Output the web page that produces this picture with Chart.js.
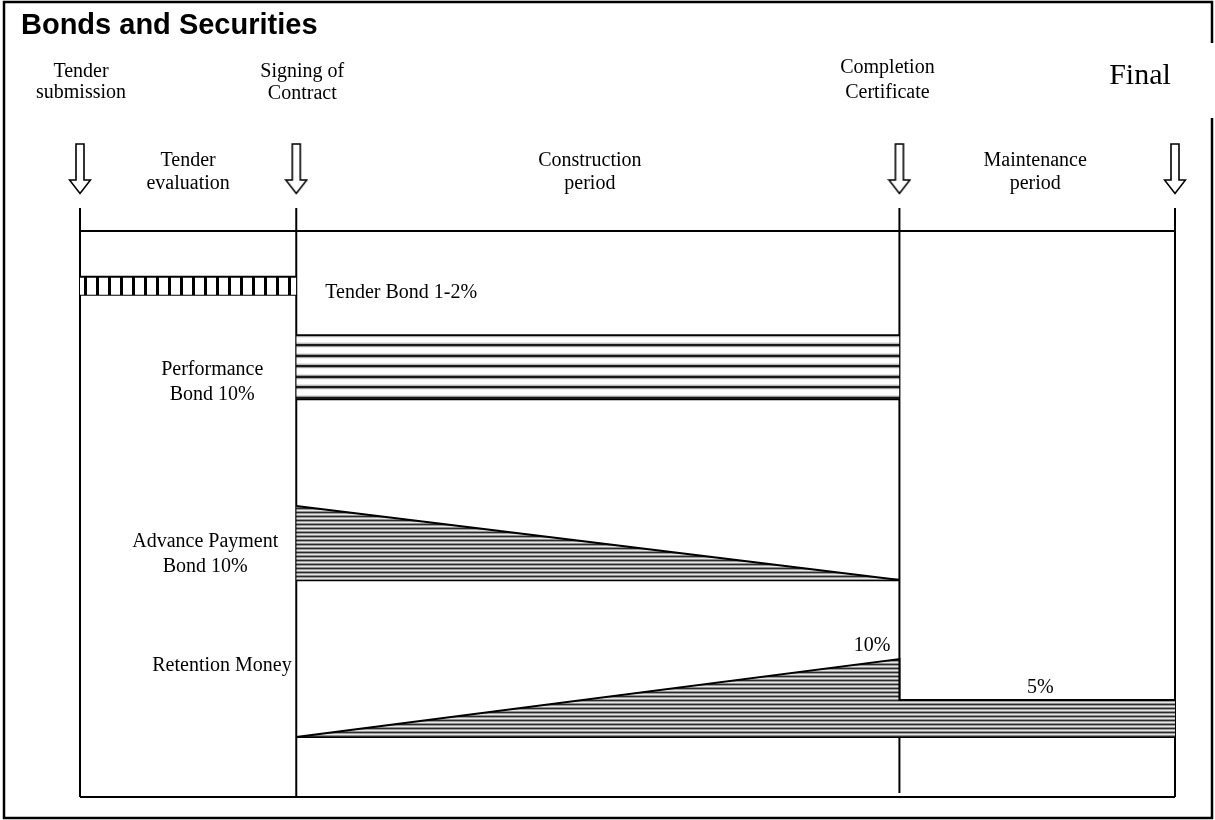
<!DOCTYPE html>
<html>
<head>
<meta charset="utf-8">
<script src="https://cdn.jsdelivr.net/npm/chart.js@4.4.1/dist/chart.umd.min.js"></script>
<style>
html,body{margin:0;padding:0;background:#fff;}
#wrap{position:relative;width:1215px;height:820px;}
</style>
</head>
<body>
<div id="wrap"><canvas id="c" width="1215" height="820"></canvas></div>
<script>
// ---------- data ----------
const chartTitle = 'Bonds and Securities';
const milestoneNames = ['Tender\nsubmission', 'Signing of\nContract', 'Completion\nCertificate', 'Final'];
const milestoneTimes = [0, 2.37, 8.98, 12];
const phaseNames = ['Tender\nevaluation', 'Construction\nperiod', 'Maintenance\nperiod'];
const bondLabels = ['Tender Bond 1-2%', 'Performance\nBond 10%', 'Advance Payment\nBond 10%', 'Retention Money'];
const laneBase = [71.0, 56.25, 30.67, 8.48];
const tenderBondTop = [73.55, 73.55];
const performanceBondTop = [65.3, 65.3];
const advancePaymentTop = [41.13, 30.67];
const retentionTop = [8.48, 19.5, 13.71, 13.71];
const retentionLabels = ['10%', '5%'];
const frameTop = 80, tickTop = 83.25, arrowLevel = 88.78;

// ---------- patterns ----------
function makePattern(w, h, draw, ty) {
  const c = document.createElement('canvas'); c.width = w; c.height = h;
  const g = c.getContext('2d'); draw(g);
  const p = document.createElement('canvas').getContext('2d').createPattern(c, 'repeat');
  if (ty) p.setTransform(new DOMMatrix().translate(0, ty));
  return p;
}
const vStripes = makePattern(12, 4, g => { g.fillStyle = '#fff'; g.fillRect(0,0,12,4); g.fillStyle = '#000'; g.fillRect(0,0,3,4); });
const hLines = makePattern(1, 21, g => {
  const rows = ['#999','#1a1a1a','#1a1a1a','#aaa','#eee','#fff','#fff','#fff','#fff','#e4e4e4','#bbb','#1a1a1a','#1a1a1a','#999','#eee','#fff','#fff','#fff','#fff','#fff','#e4e4e4'];
  rows.forEach((c,i)=>{ g.fillStyle=c; g.fillRect(0,i,1,1); });
}, 333);
const dense = makePattern(1, 4, g => {
  ['#2a2a2a','#9c9c9c','#e6e6e6','#909090'].forEach((c,i)=>{ g.fillStyle=c; g.fillRect(0,i,1,1); });
});

function arrowImage() {
  const c = document.createElement('canvas'); c.width = 24; c.height = 52;
  const g = c.getContext('2d');
  g.lineWidth = 1.6; g.strokeStyle = '#000'; g.fillStyle = '#fff';
  g.beginPath();
  g.moveTo(8,1); g.lineTo(16,1); g.lineTo(16,37); g.lineTo(22.5,37); g.lineTo(12,50.5); g.lineTo(1.5,37); g.lineTo(8,37); g.closePath();
  g.fill(); g.stroke();
  return c;
}

const T = milestoneTimes;
const pts = (xs, ys) => xs.map((x,i)=>({x, y: ys[i]}));
const base = {showLine:true, pointRadius:0, borderColor:'#000', borderWidth:2, clip:false, fill:false, tension:0};

const datasets = [];
// bonds
datasets.push({...base, data: pts([T[0],T[1]], tenderBondTop), fill:{value:laneBase[0]}, backgroundColor: vStripes});
datasets.push({...base, data: pts([T[0],T[1]], [laneBase[0],laneBase[0]])});
datasets.push({...base, data: pts([T[1],T[2]], performanceBondTop), fill:{value:laneBase[1]}, backgroundColor: hLines, borderWidth:1.5});
datasets.push({...base, data: pts([T[1],T[2]], [laneBase[1],laneBase[1]]), borderWidth:2.5});
datasets.push({...base, data: pts([T[1],T[2]], advancePaymentTop), fill:{value:laneBase[2]}, backgroundColor: dense});
datasets.push({...base, data: pts([T[1],T[2]], [laneBase[2],laneBase[2]]), borderWidth:2.5});
datasets.push({...base, data: pts([T[1],T[2],T[2],T[3]], retentionTop), fill:{value:laneBase[3]}, backgroundColor: dense});
datasets.push({...base, data: pts([T[1],T[3]], [laneBase[3],laneBase[3]])});
// frame
datasets.push({...base, data: pts([T[0],T[3]], [frameTop,frameTop])});
datasets.push({...base, data: pts([T[0],T[3]], [0,0])});
T.forEach((t,i)=>{
  datasets.push({...base, data: pts([t,t], [i===2?0.55:0, tickTop])});
});
// arrows
const arrow = arrowImage();
datasets.push({data: T.map(t=>({x:t, y:arrowLevel})), showLine:false, pointStyle: arrow, pointRadius: 12, clip:false, borderWidth:0});

// ---------- text plugin ----------
const textPlugin = {
  id: 'texts',
  beforeDraw(chart) {
    const ctx = chart.ctx; ctx.save(); ctx.fillStyle = '#fff'; ctx.fillRect(0,0,chart.width,chart.height); ctx.restore();
  },
  afterDraw(chart) {
    const ctx = chart.ctx, xs = chart.scales.x, ys = chart.scales.y;
    const X = v => xs.getPixelForValue(v), Y = v => ys.getPixelForValue(v);
    ctx.save();
    // outer border with gap on right
    ctx.strokeStyle = '#000'; ctx.lineWidth = 2.5;
    ctx.beginPath();
    ctx.moveTo(1212, 43); ctx.lineTo(1212, 2); ctx.lineTo(4, 2); ctx.lineTo(4, 818); ctx.lineTo(1212, 818); ctx.lineTo(1212, 118);
    ctx.stroke();
    // title
    ctx.fillStyle = '#000';
    ctx.font = 'bold 29px "Liberation Sans", Arial, sans-serif';
    ctx.textAlign = 'left'; ctx.textBaseline = 'alphabetic';
    ctx.fillText(chartTitle, 21, 34);
    const serif = s => s + 'px "Liberation Serif", "Times New Roman", serif';
    const lines = (txt, x, y0, lh, align) => {
      ctx.textAlign = align || 'center';
      txt.split('\n').forEach((l,i)=>ctx.fillText(l, x, y0 + i*lh));
    };
    ctx.font = serif(20);
    const mOff = [[1,77,21],[6,77,22],[-12,73,25]];
    mOff.forEach((o,i)=>lines(milestoneNames[i], X(T[i])+o[0], o[1], o[2]));
    ctx.font = serif(30);
    lines(milestoneNames[3], X(T[3])-35, 84, 30);
    ctx.font = serif(20);
    const pOff = [0,-8,-2];
    phaseNames.forEach((n,i)=>lines(n, (X(T[i])+X(T[i+1]))/2 + pOff[i], 166, 23));
    // bond labels
    lines(bondLabels[0], X(T[1])+29, Y(laneBase[0])+3, 22, 'left');
    lines(bondLabels[1], X(T[1])-84, 375, 25);
    lines(bondLabels[2], X(T[1])-91, 547, 25);
    lines(bondLabels[3], X(T[1])-144, 671, 22, 'left');
    lines(retentionLabels[0], X(T[2])-9, Y(retentionTop[1])-8, 22, 'right');
    lines(retentionLabels[1], (X(T[2])+X(T[3]))/2 + 3, Y(retentionTop[2])-7, 22);
    ctx.restore();
  }
};

new Chart(document.getElementById('c'), {
  type: 'scatter',
  data: { datasets },
  options: {
    responsive: false, animation: false, devicePixelRatio: 1,
    layout: { padding: { left: 80, right: 40, top: 125, bottom: 23 } },
    scales: {
      x: { type: 'linear', min: 0, max: 12, display: false },
      y: { type: 'linear', min: 0, max: 95, display: false }
    },
    plugins: { legend: { display: false }, tooltip: { enabled: false }, title: { display: false } },
    events: []
  },
  plugins: [textPlugin]
});
</script>
</body>
</html>
